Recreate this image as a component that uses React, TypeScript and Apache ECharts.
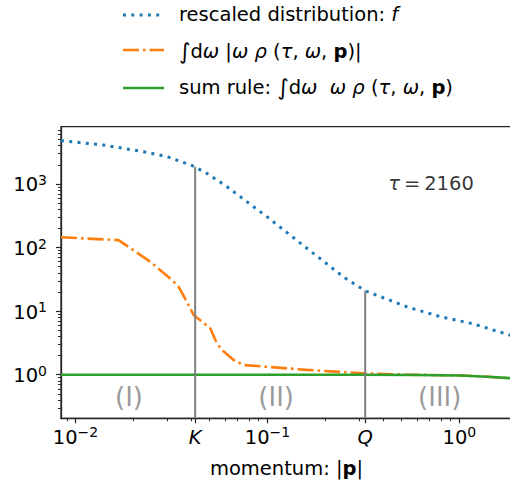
import React, { useEffect, useRef } from "react";
import * as echarts from "echarts";

const FONT = "DejaVu Sans";

// rescaled distribution f
const fMomentum = [0.0084, 0.0139, 0.0226, 0.03, 0.0404, 0.0483, 0.0615, 0.0781, 0.0993, 0.158, 0.252, 0.323, 0.532, 0.793, 1.18, 1.88];
const fValues = [4800, 4110, 3220, 2690, 1950, 1470, 908, 527, 306, 101, 33.6, 20.9, 11.7, 8.2, 6.3, 4.1];

// ∫dω |ω ρ|
const rhoMomentum = [0.0084, 0.01675, 0.0245, 0.0318, 0.0344, 0.038, 0.0412, 0.0503, 0.0545, 0.0579, 0.0666, 0.075, 0.16, 0.316, 0.55, 1.0, 1.4, 1.88];
const rhoAbs = [145, 131, 60, 30.9, 24.2, 14.1, 8.7, 5.37, 3.12, 2.45, 1.7, 1.42, 1.19, 1.05, 1.0, 0.975, 0.93, 0.875];

// sum rule
const sumMomentum = [0.0084, 0.3, 0.6, 1.0, 1.4, 1.88];
const sumRule = [1.0, 1.0, 0.99, 0.97, 0.93, 0.877];

// scale markers
const K = 0.042;
const Q = 0.323;
const markerMomentum = [K, Q];
const markerTop = [1870, 21];

// region labels
const regionNames = ["(I)", "(II)", "(III)"];
const regionMomentum = [0.019, 0.111, 0.79];
const regionY = 0.446;

// axes
const xMin = 0.0084;
const xMax = 1.88;
const yMin = 0.206;
const yMax = 7960;
const xMajorTicks = [0.01, K, 0.1, Q, 1];
const xMinorTicks = [0.009, 0.02, 0.03, 0.04, 0.05, 0.06, 0.07, 0.08, 0.09, 0.2, 0.3, 0.4, 0.5, 0.6, 0.7, 0.8, 0.9];
const yMajorTicks = [1, 10, 100, 1000];
const yMinorTicks = [0.3, 0.4, 0.5, 0.6, 0.7, 0.8, 0.9, 2, 3, 4, 5, 6, 7, 8, 9, 20, 30, 40, 50, 60, 70, 80, 90, 200, 300, 400, 500, 600, 700, 800, 900, 2000, 3000, 4000, 5000, 6000, 7000];

const legendNames = [
  "{t|rescaled distribution: }{i|f}",
  "{int|∫}{t|d}{i|ω}{t| |}{i|ω}{t| }{i|ρ}{t| (}{i|τ}{t|, }{i|ω}{t|, }{bf|p}{t|)|}",
  "{t|sum rule: }{int|∫}{t|d}{i|ω}{t|  }{i|ω}{t| }{i|ρ}{t| (}{i|τ}{t|, }{i|ω}{t|, }{bf|p}{t|)}",
];
const tauLabel = "{i|τ}{t|\u2009=\u20092160}";

const BLUE = "#1f77b4";
const ORANGE = "#ff7f0e";
const GREEN = "#2ca02c";
const GRAY = "#808080";
const AXIS = "#262626";

const FS = 19.5;

const textRich = {
  t: { fontFamily: FONT, fontSize: FS, color: "#000" },
  i: { fontFamily: FONT, fontSize: FS, fontStyle: "italic", color: "#000" },
  bf: { fontFamily: FONT, fontSize: FS, fontWeight: "bold", color: "#000" },
  int: { fontFamily: FONT, fontSize: 22, color: "#000" },
};

const tickRich = {
  b: { fontFamily: FONT, fontSize: FS, color: "#000", lineHeight: 22, verticalAlign: "bottom" },
  s: { fontFamily: FONT, fontSize: 14, color: "#000", lineHeight: 12, padding: [0, 0, 14, 0], verticalAlign: "top" },
  k: { fontFamily: FONT, fontSize: FS, fontStyle: "italic", color: "#000", lineHeight: 22, padding: [4, 0, 0, 0], verticalAlign: "bottom" },
};

function pow10Label(v: number): string {
  if (Math.abs(v - K) / K < 1e-6) return "{k|K}";
  if (Math.abs(v - Q) / Q < 1e-6) return "{k|Q}";
  const e = Math.round(Math.log10(v));
  const es = e < 0 ? "\u2212" + -e : String(e);
  return "{b|10}{s|" + es + "}";
}

export default function App() {
  const ref = useRef<HTMLDivElement>(null);
  useEffect(() => {
    if (!ref.current) return;
    const chart = echarts.init(ref.current, undefined, { renderer: "svg" });
    const zip = (xs: number[], ys: number[]) => xs.map((x, i) => [x, ys[i]]);

    const legendHandles = [
      { color: BLUE, width: 3, dash: [3, 5.3] as number[] | null, y: 15 },
      { color: ORANGE, width: 2.6, dash: [16, 4, 2.6, 4] as number[] | null, y: 50 },
      { color: GREEN, width: 2.6, dash: null as number[] | null, y: 88 },
    ];
    const legendTextY = [14, 51, 87];

    const graphic: any[] = [];
    legendHandles.forEach((h, i) => {
      graphic.push({
        type: "line",
        shape: { x1: 123, y1: h.y, x2: 164, y2: h.y },
        style: { stroke: h.color, lineWidth: h.width, lineDash: h.dash || undefined, lineCap: "butt" },
      });
      graphic.push({
        type: "text",
        x: 179,
        y: legendTextY[i],
        style: { text: legendNames[i], rich: textRich, verticalAlign: "middle", align: "left" },
      });
    });

    const option: any = {
      animation: false,
      backgroundColor: "#fff",
      grid: {
        left: 61,
        top: 126.7,
        right: -2,
        bottom: 63.7,
        show: true,
        borderColor: AXIS,
        borderWidth: 1.3,
        containLabel: false,
        outerBoundsMode: "none",
      },
      xAxis: [
        {
          type: "log",
          logBase: 10,
          min: xMin,
          max: xMax,
          splitLine: { show: false },
          axisLine: { show: true, lineStyle: { color: AXIS, width: 1.3 } },
          axisTick: { show: true, length: 5, lineStyle: { color: AXIS, width: 1.2 }, customValues: xMajorTicks },
          axisLabel: {
            show: true,
            customValues: xMajorTicks,
            margin: 7,
            formatter: (v: number) => pow10Label(v),
            rich: tickRich,
            showMinLabel: true,
            showMaxLabel: true,
            hideOverlap: false,
          },
          name: "{t|momentum: |}{bf|p}{t||}",
          nameLocation: "middle",
          nameGap: 35.5,
          nameTextStyle: { rich: { ...textRich, t: { ...textRich.t, lineHeight: 22 }, bf: { ...textRich.bf, lineHeight: 22 } } },
        },
        {
          type: "log",
          logBase: 10,
          min: xMin,
          max: xMax,
          position: "bottom",
          gridIndex: 0,
          splitLine: { show: false },
          axisLine: { show: false },
          axisLabel: { show: false },
          axisTick: { show: true, length: 3, lineStyle: { color: AXIS, width: 1 }, customValues: xMinorTicks },
        },
      ],
      yAxis: [
        {
          type: "log",
          logBase: 10,
          min: yMin,
          max: yMax,
          splitLine: { show: false },
          axisLine: { show: true, lineStyle: { color: AXIS, width: 1.3 } },
          axisTick: { show: true, length: 5, lineStyle: { color: AXIS, width: 1.2 }, customValues: yMajorTicks },
          axisLabel: {
            show: true,
            customValues: yMajorTicks,
            margin: 14,
            formatter: (v: number) => pow10Label(v),
            rich: tickRich,
            hideOverlap: false,
          },
        },
        {
          type: "log",
          logBase: 10,
          min: yMin,
          max: yMax,
          position: "left",
          gridIndex: 0,
          splitLine: { show: false },
          axisLine: { show: false },
          axisLabel: { show: false },
          axisTick: { show: true, length: 3, lineStyle: { color: AXIS, width: 1 }, customValues: yMinorTicks },
        },
      ],
      series: [
        {
          name: "rescaled distribution: f",
          type: "line",
          data: zip(fMomentum, fValues),
          showSymbol: false,
          symbol: "none",
          lineStyle: { color: BLUE, width: 3, type: [3, 5.3], cap: "butt" },
          z: 2,
        },
        {
          name: "∫dω |ω ρ (τ, ω, p)|",
          type: "line",
          data: zip(rhoMomentum, rhoAbs),
          symbol: "none",
          lineStyle: { color: ORANGE, width: 2.6, type: [16, 4, 2.6, 4], cap: "butt" },
          z: 3,
        },
        {
          name: "sum rule: ∫dω ω ρ (τ, ω, p)",
          type: "line",
          data: zip(sumMomentum, sumRule),
          symbol: "none",
          lineStyle: { color: GREEN, width: 2.6 },
          z: 4,
        },
        ...markerMomentum.map((m, i) => ({
          name: i === 0 ? "K" : "Q",
          type: "line",
          data: [
            [m, yMin],
            [m, markerTop[i]],
          ],
          symbol: "none",
          lineStyle: { color: GRAY, width: 2 },
          z: 5,
          silent: true,
        })),
        {
          name: "regions",
          type: "scatter",
          symbolSize: 0,
          data: regionNames.map((n, i) => [regionMomentum[i], regionY, n]),
          label: {
            show: true,
            position: "inside",
            formatter: (p: any) => p.data[2],
            fontFamily: FONT,
            fontSize: 26,
            color: GRAY,
          },
          silent: true,
          z: 6,
        },
        {
          name: "tau",
          type: "scatter",
          symbolSize: 0,
          data: [[0.712, 1025]],
          label: {
            show: true,
            position: "inside",
            formatter: tauLabel,
            rich: textRich,
          },
          silent: true,
          z: 6,
        },
      ],
      graphic,
    };
    chart.setOption(option);
    return () => chart.dispose();
  }, []);
  return <div ref={ref} style={{ position: "fixed", left: 0, top: 0, width: 510, height: 482 }} />;
}
